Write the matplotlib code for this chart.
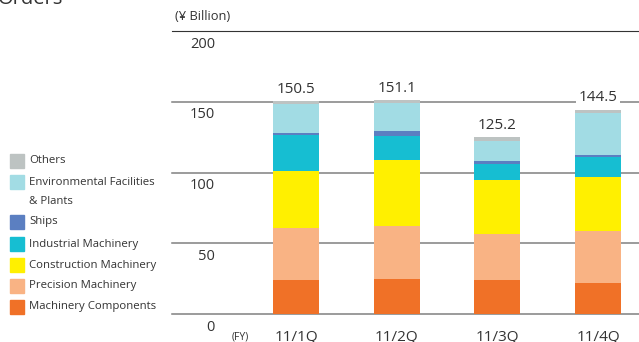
import matplotlib.pyplot as plt
import numpy as np

plt.rcParams['font.family'] = ['Open Sans', 'DejaVu Sans']

quarters = ['11/1Q', '11/2Q', '11/3Q', '11/4Q']
totals = [150.5, 151.1, 125.2, 144.5]

# segments, bottom to top
machinery_components = [24.3, 24.8, 24.3, 21.9]
precision_machinery = [36.8, 37.7, 32.5, 36.8]
construction_machinery = [40.1, 46.0, 38.0, 38.2]
industrial_machinery = [25.6, 17.4, 11.3, 14.2]
ships = [1.2, 3.6, 2.2, 1.4]
env_facilities = [20.1, 19.9, 14.1, 29.8]
others = [2.4, 1.7, 2.8, 2.2]

series = [
    ('Machinery Components', machinery_components, '#F07127'),
    ('Precision Machinery', precision_machinery, '#F9B384'),
    ('Construction Machinery', construction_machinery, '#FFF000'),
    ('Industrial Machinery', industrial_machinery, '#16BED2'),
    ('Ships', ships, '#5B7FC1'),
    ('Environmental Facilities\n& Plants', env_facilities, '#A2DCE4'),
    ('Others', others, '#BDC3C2'),
]

yticks = [0, 50, 100, 150, 200]

fig = plt.figure(figsize=(6.39, 3.42), dpi=100)
W, H = 639, 342

# axes: x from px 172 to 639, y=0 at px 314, y=200 at px 31
ax = fig.add_axes([172 / W, (H - 314) / H, 1 - 172 / W, (314 - 31) / H])
ax.set_ylim(0, 200)
x = np.arange(len(quarters))
step = 100.67
ax.set_xlim(-(296 - 172) / step, 3 + (639 - 598) / step)
for s in ax.spines.values():
    s.set_visible(False)
ax.set_xticks([])
ax.set_yticks([])

# gridlines + y labels (sit just under each line)
for v in yticks:
    col = '#333333' if v == 200 else '#808080'
    lw = 0.8 if v == 200 else 1.1
    ax.axhline(v, color=col, lw=lw, zorder=1, clip_on=False)
    ax.annotate(str(v), xy=(-0.805, v), xytext=(0, -4), textcoords='offset points',
                ha='right', va='top', fontsize=10.5, color='#333333', annotation_clip=False)

bottom = np.zeros(len(quarters))
for name, vals, color in series:
    ax.bar(x, vals, 0.457, bottom=bottom, color=color, zorder=2, linewidth=0)
    bottom += np.array(vals)

for xi, t in zip(x, totals):
    ax.annotate(f'{t:.1f}', xy=(xi, t), xytext=(0, 3), textcoords='offset points',
                ha='center', va='bottom', fontsize=11, color='#333333', zorder=3,
                bbox=dict(boxstyle='square,pad=0.15', fc='white', ec='none'))

for xi, q in zip(x, quarters):
    ax.text(xi, -16.5, q, ha='center', va='center', fontsize=11, color='#333333')
ax.text(-0.557, -16.5, '(FY)', ha='center', va='center', fontsize=7.5, color='#333333')

fig.text(175 / W, 1 - 17 / H, '(¥ Billion)', ha='left', va='center', fontsize=9.3, color='#333333')
fig.text(-2 / W, 1 - 4 / H, 'Orders', ha='left', va='baseline', fontsize=14.5, color='#333333')

# legend, drawn by hand
leg_rows = [160.7, 182.3, 221.7, 244, 265.3, 285.7, 306.7]
for (name, vals, color), yc in zip(series[::-1], leg_rows):
    fig.patches.append(plt.Rectangle((10 / W, 1 - (yc + 7) / H), 14 / W, 14 / H,
                                     transform=fig.transFigure, color=color, figure=fig))
    for i, line in enumerate(name.split('\n')):
        fig.text(29 / W, 1 - (yc + i * 19) / H, line, ha='left', va='center',
                 fontsize=8.2, color='#333333')

fig.savefig('out.png', dpi=100)
